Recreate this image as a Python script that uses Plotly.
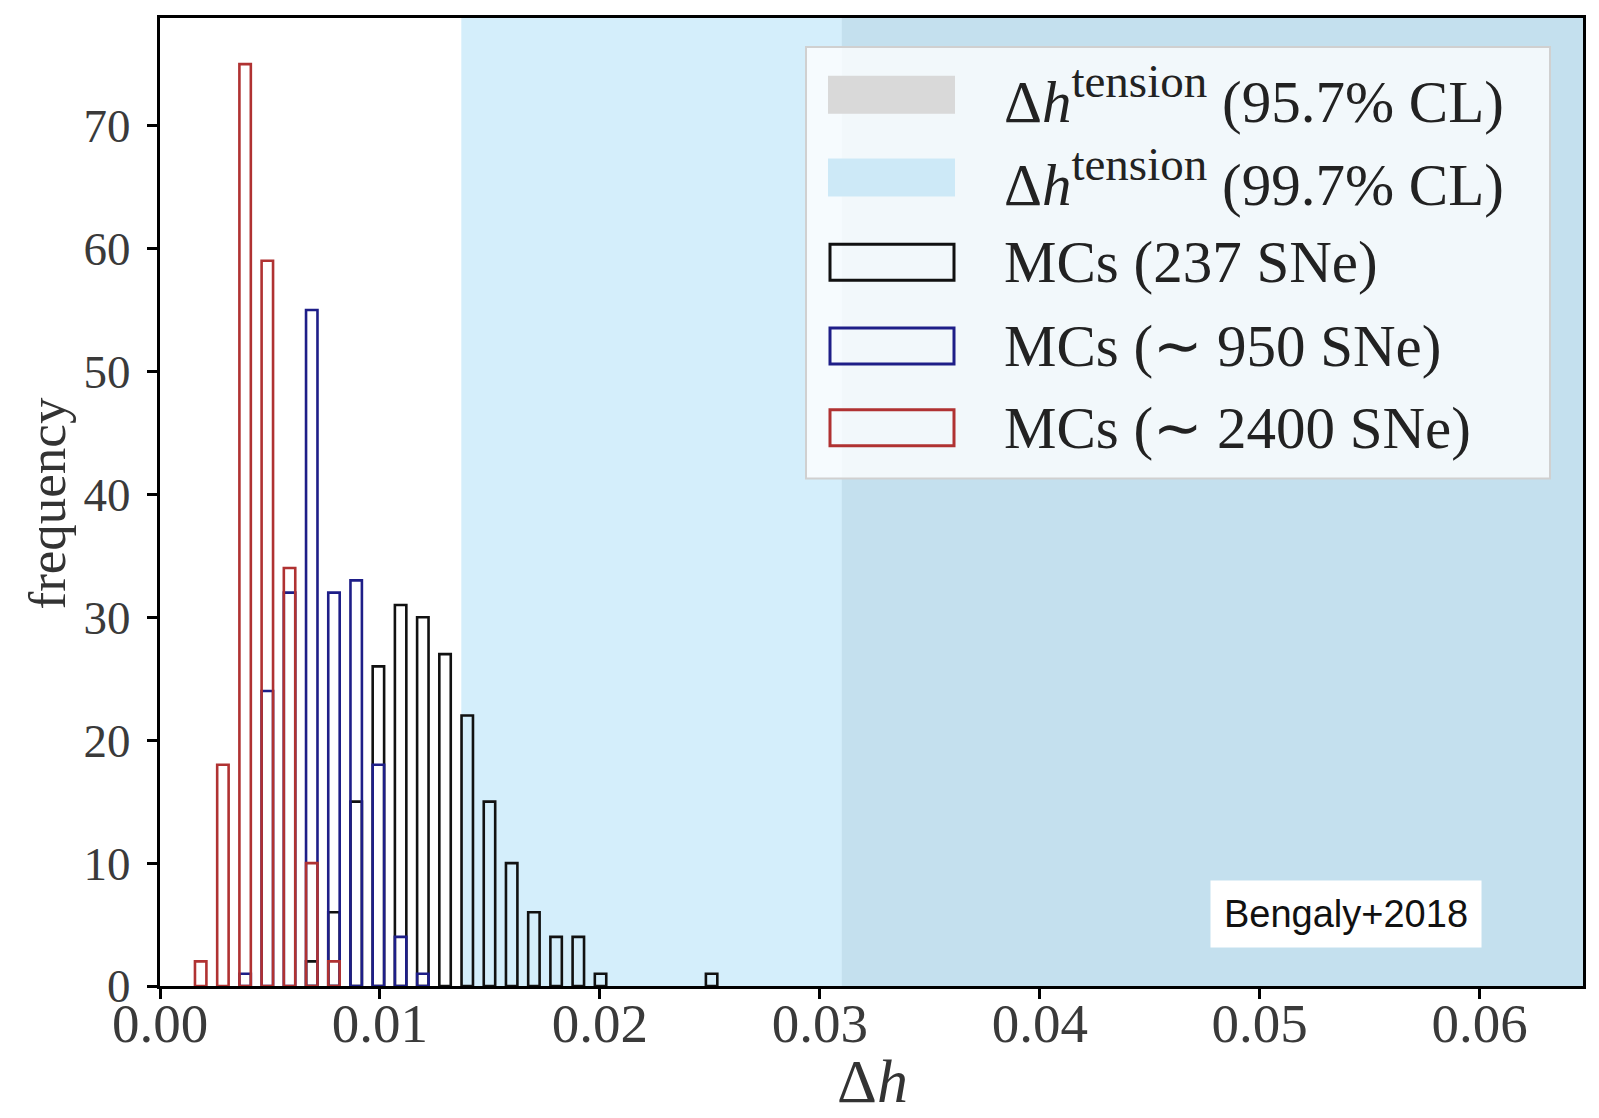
import plotly.graph_objects as go

# ---- data ----
# histogram bin centres (Delta h)
bin_centers = [0.00185, 0.00286, 0.00387, 0.00488, 0.00589, 0.00690, 0.00791,
               0.00892, 0.00993, 0.01094, 0.01195, 0.01296, 0.01397, 0.01498,
               0.01599, 0.01700, 0.01801, 0.01902, 0.02003, 0.02104, 0.02205,
               0.02306, 0.02407, 0.02508]

# counts per bin for each Monte-Carlo set
counts_237 = [0, 0, 0, 0, 0, 2, 6, 15, 26, 31, 30, 27, 22, 15, 10, 6, 4, 4, 1, 0, 0, 0, 0, 1]
counts_950 = [0, 0, 1, 24, 32, 55, 32, 33, 18, 4, 1, 0, 0, 0, 0, 0, 0, 0, 0, 0, 0, 0, 0, 0]
counts_2400 = [2, 18, 75, 59, 34, 10, 2, 0, 0, 0, 0, 0, 0, 0, 0, 0, 0, 0, 0, 0, 0, 0, 0, 0]

series_names = ["MCs (237 SNe)", "MCs (∼ 950 SNe)", "MCs (∼ 2400 SNe)"]
series_colors = ["#111111", "#1e1e88", "#b03232"]

# tension thresholds (lower edges of the shaded regions)
dh_tension_957 = 0.031
dh_tension_997 = 0.0137

x_range = [0.0, 0.0647]
y_range = [0.0, 78.75]
x_ticks = [0.00, 0.01, 0.02, 0.03, 0.04, 0.05, 0.06]
x_ticklabels = ["0.00", "0.01", "0.02", "0.03", "0.04", "0.05", "0.06"]
y_ticks = [0, 10, 20, 30, 40, 50, 60, 70]

SUP = '<sup><span style="font-size:47px">tension</span></sup>'
legend_labels = ["Δ<i>h</i>" + SUP + " (95.7% CL)",
                 "Δ<i>h</i>" + SUP + " (99.7% CL)"] + series_names

# ---- figure ----
W, H = 1599, 1118
OFF = 8                      # page offset of the plot div (body margin)
L, R, T, B = 152, 24, 7, 140  # plot area sits at page x 160..1583, y 15..986
PW, PH = W - L - R, H - T - B

def px(xp):                  # page x -> paper x
    return (xp - OFF - L) / PW

def py(yp):                  # page y -> paper y
    return (H - B - (yp - OFF)) / PH

fig = go.Figure()

for counts, name, col in zip([counts_237, counts_950, counts_2400], series_names, series_colors):
    xs = [c for c, n in zip(bin_centers, counts) if n > 0]
    ys = [n for n in counts if n > 0]
    fig.add_trace(go.Bar(
        x=xs, y=ys, name=name, width=0.00052,
        marker=dict(color="rgba(0,0,0,0)", line=dict(color=col, width=2.6)),
        showlegend=False,
    ))

shapes = [
    dict(type="rect", xref="x", yref="paper", x0=dh_tension_997, x1=x_range[1], y0=0, y1=1,
         fillcolor="#d4eefb", line=dict(width=0), layer="below"),
    dict(type="rect", xref="x", yref="paper", x0=dh_tension_957, x1=x_range[1], y0=0, y1=1,
         fillcolor="#c4e0ee", line=dict(width=0), layer="below"),
    # legend frame
    dict(type="rect", xref="paper", yref="paper", x0=px(806), x1=px(1550), y0=py(477), y1=py(44),
         fillcolor="rgba(255,255,255,0.78)", line=dict(color="#d0d0d0", width=2), layer="above"),
]

annotations = []
row_y = [92, 175, 260, 344, 426]
patch_fill = ["#d9d9d9", "#cde9f7", None, None, None]
patch_line = [None, None] + series_colors
for i, yc in enumerate(row_y):
    if patch_fill[i]:
        shapes.append(dict(type="rect", xref="paper", yref="paper",
                           x0=px(828), x1=px(955), y0=py(yc + 19), y1=py(yc - 19),
                           fillcolor=patch_fill[i], line=dict(width=0), layer="above"))
    else:
        shapes.append(dict(type="rect", xref="paper", yref="paper",
                           x0=px(830), x1=px(954), y0=py(yc + 18), y1=py(yc - 18),
                           fillcolor="rgba(0,0,0,0)", line=dict(color=patch_line[i], width=3),
                           layer="above"))
    annotations.append(dict(xref="paper", yref="paper", x=px(1002), y=py(yc),
                            xanchor="left", yanchor="middle", showarrow=False,
                            text=legend_labels[i],
                            font=dict(family="Liberation Serif", size=59, color="#222222")))

annotations.append(dict(xref="paper", yref="paper", x=px(1346), y=py(914),
                        xanchor="center", yanchor="middle", showarrow=False,
                        text="Bengaly+2018", bgcolor="white", borderpad=0,
                        width=270, height=66,
                        font=dict(family="Liberation Sans", size=38, color="#111111")))

# axis titles as positioned text
annotations.append(dict(xref="paper", yref="paper", x=px(872), y=py(1081),
                        xanchor="center", yanchor="middle", showarrow=False,
                        text="Δ<i>h</i>",
                        font=dict(family="Liberation Serif", size=62, color="#333333")))
annotations.append(dict(xref="paper", yref="paper", x=px(47), y=py(502),
                        xanchor="center", yanchor="middle", showarrow=False, textangle=-90,
                        text="frequency",
                        font=dict(family="Liberation Serif", size=53, color="#333333")))

fig.update_layout(
    width=W, height=H,
    margin=dict(l=L, r=R, t=T, b=B),
    barmode="overlay",
    plot_bgcolor="white", paper_bgcolor="white",
    shapes=shapes, annotations=annotations,
    font=dict(family="Liberation Serif", color="#333333"),
)

fig.update_xaxes(
    range=x_range, tickvals=x_ticks, ticktext=x_ticklabels,
    showgrid=False, zeroline=False,
    showline=True, mirror=True, linecolor="black", linewidth=3,
    ticks="outside", ticklen=10, tickwidth=2.5, tickcolor="black",
    ticklabelstandoff=-23,
    tickfont=dict(family="Liberation Serif", size=55, color="#3a3a3a"),
)
fig.update_yaxes(
    range=y_range, tickvals=y_ticks,
    showgrid=False, zeroline=False,
    showline=True, mirror=True, linecolor="black", linewidth=3,
    ticks="outside", ticklen=10, tickwidth=2.5, tickcolor="black",
    ticklabelstandoff=7,
    tickfont=dict(family="Liberation Serif", size=47, color="#3a3a3a"),
)

fig.write_html("out.html")
